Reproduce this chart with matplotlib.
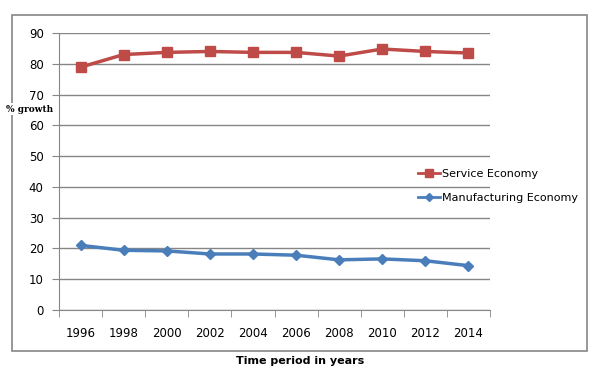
import matplotlib.pyplot as plt
from matplotlib.patches import Rectangle

years = ['1996', '1998', '2000', '2002', '2004', '2006', '2008', '2010', '2012', '2014']
service = [78.9, 83.0, 83.7, 84.0, 83.7, 83.7, 82.5, 84.8, 84.0, 83.5]
manufacturing = [21.0, 19.4, 19.2, 18.2, 18.2, 17.8, 16.3, 16.6, 16.0, 14.4]

fig = plt.figure(figsize=(6.15, 3.71), dpi=100)
ax = fig.add_axes([59/615, 61/371, 431/615, 277/371])

# outer chart border
fig.patches.append(Rectangle((12/615, 20/371), 575/615, 336/371,
                             transform=fig.transFigure, fill=False,
                             edgecolor='#868686', linewidth=1.2))

x = list(range(len(years)))
ax.plot(x, service, color='#BE4B48', linewidth=2.5, marker='s',
        markersize=7, label='Service Economy')
ax.plot(x, manufacturing, color='#4A7EBB', linewidth=2.5, marker='D',
        markersize=5.5, label='Manufacturing Economy')

ax.set_xlim(-0.5, len(years) - 0.5)
ax.set_ylim(0, 90)
ax.set_yticks(range(0, 91, 10))
ax.set_xticks(x)
ax.set_xticklabels(years)
ax.set_xticks([i - 0.5 for i in range(len(years) + 1)], minor=True)
ax.tick_params(axis='x', which='major', length=0, pad=12, labelsize=8.5)
ax.tick_params(axis='x', which='minor', length=5, color='#868686')
ax.tick_params(axis='y', length=5, color='#868686', labelsize=8.5, pad=6)
ax.grid(axis='y', color='#868686', linewidth=1)
ax.set_axisbelow(True)
for s in ['top', 'right']:
    ax.spines[s].set_visible(False)
for s in ['left', 'bottom']:
    ax.spines[s].set_color('#868686')

fig.text(6/615, 1 - 109/371, '% growth', family='DejaVu Serif', weight='bold',
         fontsize=6.5, va='center', ha='left',
         bbox=dict(facecolor='white', edgecolor='none', pad=1))
fig.text(300/615, 1 - 361/371, 'Time period in years', weight='bold',
         fontsize=8, va='center', ha='center')

leg = ax.legend(loc='center left', bbox_to_anchor=(418/615, 1 - 186/371),
                bbox_transform=fig.transFigure, markerscale=0.8,
                frameon=False, fontsize=8, handlelength=2.0, labelspacing=1.2,
                handletextpad=0.2, borderaxespad=0, borderpad=0)
for line in leg.get_lines():
    line.set_linewidth(2)

fig.savefig('out.png', dpi=100)
